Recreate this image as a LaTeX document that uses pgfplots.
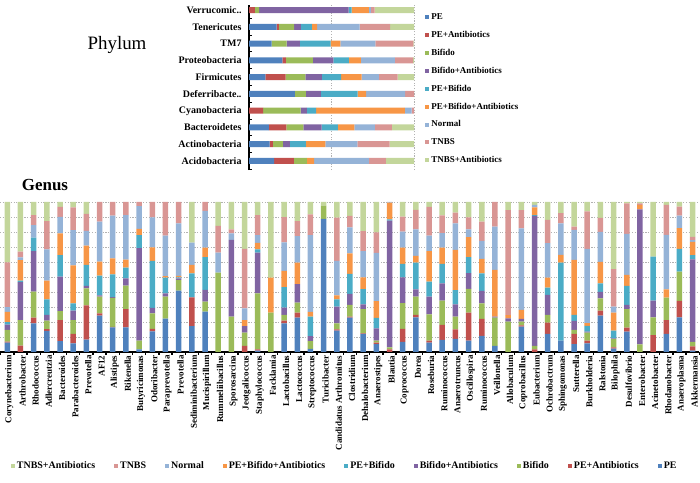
\documentclass[border=0pt]{standalone}
\usepackage{fontspec}
\setmainfont{Liberation Serif}
\usepackage{pgfplots}
\usepackage{pgfplotstable}
\pgfplotsset{compat=1.18}

\definecolor{cPE}{HTML}{4F81BD}
\definecolor{cPEA}{HTML}{C0504D}
\definecolor{cBif}{HTML}{9BBB59}
\definecolor{cBifA}{HTML}{8064A2}
\definecolor{cPEBif}{HTML}{4BACC6}
\definecolor{cPEBifA}{HTML}{F79646}
\definecolor{cNor}{HTML}{95B3D7}
\definecolor{cTNBS}{HTML}{D99694}
\definecolor{cTNBSA}{HTML}{C3D69B}

% phylum, 0 = Acidobacteria (bottom) ... 9 = Verrucomicrobia (top)
\pgfplotstableread{
y PE PEA Bif BifA PEBif PEBifA Nor TNBS TNBSA
0 15.3 11.9 7.9 0 0 4.4 33.1 10.3 17.1
1 12.5 2 6 4.2 9.7 11.9 19.4 19.6 14.7
2 12.1 10.5 10.3 11.1 9.9 9.9 12.5 10.3 13.4
3 0 8.5 22.8 3.8 5.6 53.8 4 1.5 0
4 27.8 0 6.7 9.1 22.2 5.2 23.6 5.4 0
5 9.9 12.3 11.9 10.1 11.7 12.3 10.5 11.3 10
6 20.2 2.2 16.3 12.5 9.3 7.3 20.6 11.1 0.5
7 13.7 0 9.1 8.1 18.5 6 21.2 23 0.4
8 16.7 1.4 9.3 4 6.7 3.2 25.8 18.5 14.4
9 0 3.6 2.6 54.2 1.8 10.5 1.2 2.2 23.9
}\phylum

% genus, one row per bar, left to right
\pgfplotstableread{
x PE PEA Bif BifA PEBif PEBifA Nor TNBS TNBSA
0 6.2 0.7 7.8 3.6 1.6 6.9 3.1 29.8 40.3
1 0 4.2 17.1 25.3 0.9 13.8 1.8 3.8 33.1
2 19.1 3.8 17.3 27.1 8.9 0 8.4 6.7 8.7
3 14 1.3 5.6 3.8 10.4 12.4 20.9 18.9 12.7
4 7.3 14 6 22.9 14.4 14.4 11.1 6.7 3.2
5 5.8 6.2 9.3 6.2 4.9 25.3 23.6 15.1 3.6
6 8.2 22.9 11.3 1.6 14 12.9 9.8 11.3 8
7 24.2 1.6 11.1 0.9 13.1 9.3 26.7 13.1 0
8 16.4 0.4 19.3 0.5 15.1 10.7 28.5 9.1 0
9 16.4 12.2 15.6 4.9 7.1 5.3 29.8 8.7 0
10 1.8 0 5.8 61.6 8.7 4.2 15.2 2.7 0
11 13.8 1.6 10.4 3.6 31.3 9.1 20 10.2 0
12 22.2 0 14.7 2.2 10.4 1.1 26.9 22.5 0
13 40.9 0 7.1 1.1 0.7 0.9 35.1 14.2 0
14 17.3 19.1 0 0 16 5.6 14.9 0 27.1
15 26.9 0 6.7 7.8 21.8 6.4 24.4 6 0
16 0 0 52.9 0 0 0 13.3 17.8 16
17 0 0 23.6 51.1 0 0 4.4 2.7 18.2
18 0 4 8.9 4.4 0 4 7.8 39.6 31.3
19 0.9 0.9 37.3 27.1 2.2 4.4 5.1 13.3 8.8
20 0 0 26.2 0 0 23.3 0 0 50.5
21 19.1 1.8 3.8 4.9 13.6 10.9 18.9 16.9 10.1
22 22.9 3.3 6.7 12.4 0 14.2 17.8 10 12.7
23 2 0 5.3 3.3 12.9 3.3 51.1 13.8 8.3
24 88.7 0 8.9 0 0 0 0 0 2.4
25 14.2 0.9 4 11.1 4.9 2.7 22.9 28.9 10.4
26 22.9 0.7 7.8 7.3 13.3 13.8 17.3 7.6 9.3
27 12 0.4 16.2 3.1 10.2 7.8 17.6 13.3 19.4
28 5.3 0.9 1.3 8.2 7.1 11.1 32.2 13.6 20.3
29 0 1.8 1.3 84.4 0.9 11.1 0.5 0 0
30 6.7 8.7 17.1 17.3 8.9 10.9 10.7 10 9.7
31 23.1 1.6 12.2 4.9 17.8 4.4 17.8 12.9 5.3
32 6.2 1.3 17.6 11.8 10 20.4 10.2 19.3 3.2
33 8 10 16.2 11.6 12.9 10.9 9.6 11.8 9
34 8.7 6.4 8.4 8.2 9.6 26.7 17.8 7.1 7.1
35 7.6 18.7 15.8 10.4 10.7 13.3 5.3 8 10.2
36 10.7 11.3 10.4 8.4 11.6 9.6 12 12.9 13.1
37 4 0 18.9 0.7 0 31.1 28.9 16.4 0
38 0 0 20.2 2.2 0 2.2 0 70 5.4
39 16.9 0.9 2.4 1.8 0 6 54.4 12.2 5.4
40 0 1.8 2.2 86.8 0.5 5.1 1.6 0 2
41 12 7.6 5.1 13.3 4.9 6.7 22.9 15.6 11.9
42 7.6 0 0 0 52 5.1 21.1 6.7 7.5
43 5.3 6.7 2.7 6 4 36.7 20 2.2 16.4
44 5.8 1.8 5.3 0.7 3.8 1.8 49.6 24.9 6.3
45 24.2 3.3 8.2 4.4 5.6 14.4 20 9.3 10.6
46 2.2 0.9 5.6 0.4 5.1 12 4 25.1 44.7
47 13.6 2.7 12.2 2.9 12.7 7.3 27.3 20.4 0.9
48 0 0 5.1 90 0 2.9 0 1.1 0.9
49 0 11.3 11.8 11.1 29.3 0 0 0 36.5
50 12 9.3 14.9 0 0 5.6 36.2 20 2
51 23.1 10.9 19.6 0 15.1 13.8 8.4 6 3.1
52 0.9 2.9 2.9 55.1 2.7 8.9 1.1 2.2 23.3
}\genus

\begin{document}
\begin{tikzpicture}
\path[use as bounding box] (0,0) rectangle (700bp,483bp);

\node[font=\fontsize{19}{20}\selectfont] at (117bp,438bp) {Phylum};
\node[font=\bfseries\fontsize{17}{18}\selectfont] at (45bp,298bp) {Genus};

% ---- phylum ----
\begin{axis}[
  at={(249bp,312.8bp)}, anchor=south west,
  width=165bp, height=165.2bp, scale only axis,
  xbar stacked, bar width=6bp,
  xmin=0, xmax=100, ymin=-0.55, ymax=9.3,
  axis x line*=bottom, axis y line*=left,
  x axis line style={draw=none},
  y axis line style={-, black, line width=1.4bp},
  xtick={50,100}, xticklabels={},
  xmajorgrids, major grid style={gray!60, dash pattern=on 1.2bp off 1.5bp, line width=0.5bp},
  ytick={0,...,9},
  yticklabels={Acidobacteria, Actinobacteria, Bacteroidetes, Cyanobacteria, Deferribacte.., Firmicutes, Proteobacteria, TM7, Tenericutes, Verrucomic..},
  yticklabel style={font=\bfseries\fontsize{10}{11}\selectfont, xshift=-4bp},
  major tick length=0pt,
  minor ytick={-0.5,0.5,...,8.5}, minor tick length=2.5bp,
  minor y tick style={black, line width=1bp},
  legend style={draw=none, fill=none, at={(1.05,0.975)}, anchor=north west,
    font=\bfseries\fontsize{9}{10}\selectfont, row sep=6.2bp},
  legend cell align=left,
  legend image code/.code={\draw[#1,draw=none] (0bp,-2bp) rectangle (4bp,2bp);},
]
\addplot[fill=cPE, draw=none] table[x=PE, y=y] {\phylum};
\addplot[fill=cPEA, draw=none] table[x=PEA, y=y] {\phylum};
\addplot[fill=cBif, draw=none] table[x=Bif, y=y] {\phylum};
\addplot[fill=cBifA, draw=none] table[x=BifA, y=y] {\phylum};
\addplot[fill=cPEBif, draw=none] table[x=PEBif, y=y] {\phylum};
\addplot[fill=cPEBifA, draw=none] table[x=PEBifA, y=y] {\phylum};
\addplot[fill=cNor, draw=none] table[x=Nor, y=y] {\phylum};
\addplot[fill=cTNBS, draw=none] table[x=TNBS, y=y] {\phylum};
\addplot[fill=cTNBSA, draw=none] table[x=TNBSA, y=y] {\phylum};
\legend{PE, PE+Antibiotics, Bifido, Bifido+Antibiotics, PE+Bifido, PE+Bifido+Antibiotics, Normal, TNBS, TNBS+Antibiotics}
\end{axis}

% ---- genus ----
\begin{axis}[
  at={(0.05bp,131bp)}, anchor=south west,
  width=699.2bp, height=150bp, scale only axis,
  ybar stacked, bar width=5.5bp,
  xmin=-0.55, xmax=52.5, ymin=0, ymax=100,
  axis x line*=bottom, axis y line*=left,
  y axis line style={draw=none},
  x axis line style={-, black, line width=1.6bp},
  ytick={10,20,...,100}, yticklabels={},
  ymajorgrids, major grid style={gray!60, dash pattern=on 1.2bp off 1.5bp, line width=0.5bp},
  xtick={0,...,52},
  xticklabels={Corynebacterium, Arthrobacter, Rhodococcus, Adlercreutzia, Bacteroides, Parabacteroides, Prevotella, AF12, Alistipes, Rikenella, Butyricimonas, Odoribacter, Paraprevotella, Prevotella, Sediminibacterium, Mucispirillum, Rummeliibacillus, Sporosarcina, Jeotgalicoccus, Staphylococcus, Facklamia, Lactobacillus, Lactococcus, Streptococcus, Turicibacter, Candidatus Arthromitus, Clostridium, Dehalobacterium, Anaerostipes, Blautia, Coprococcus, Dorea, Roseburia, Ruminococcus, Anaerotruncus, Oscillospira, Ruminococcus, Veillonella, Allobaculum, Coprobacillus, Eubacterium, Ochrobactrum, Sphingomonas, Sutterella, Burkholderia, Ralstonia, Bilophila, Desulfovibrio, Enterobacter, Acinetobacter, Rhodanobacter, Anaeroplasma, Akkermansia},
  xticklabel style={font=\bfseries\fontsize{9}{10}\selectfont, rotate=90, anchor=east, yshift=-2bp},
  major tick length=0pt,
  minor xtick={-0.5,0.5,...,52.5}, minor tick length=2.5bp, tick align=outside,
  minor x tick style={black, line width=1.3bp},
  legend style={draw=none, fill=none, at={(0.493,-0.76)}, anchor=center,
    font=\bfseries\fontsize{10}{11}\selectfont,
    /tikz/every even column/.append style={column sep=17bp}},
  legend columns=9,
  legend image code/.code={\draw[#1,draw=none] (0bp,-2bp) rectangle (4bp,2bp);},
]
\addplot[fill=cPE, draw=none, forget plot] table[x=x, y=PE] {\genus};
\addplot[fill=cPEA, draw=none, forget plot] table[x=x, y=PEA] {\genus};
\addplot[fill=cBif, draw=none, forget plot] table[x=x, y=Bif] {\genus};
\addplot[fill=cBifA, draw=none, forget plot] table[x=x, y=BifA] {\genus};
\addplot[fill=cPEBif, draw=none, forget plot] table[x=x, y=PEBif] {\genus};
\addplot[fill=cPEBifA, draw=none, forget plot] table[x=x, y=PEBifA] {\genus};
\addplot[fill=cNor, draw=none, forget plot] table[x=x, y=Nor] {\genus};
\addplot[fill=cTNBS, draw=none, forget plot] table[x=x, y=TNBS] {\genus};
\addplot[fill=cTNBSA, draw=none, forget plot] table[x=x, y=TNBSA] {\genus};
\addlegendimage{fill=cTNBSA}\addlegendentry{TNBS+Antibiotics}
\addlegendimage{fill=cTNBS}\addlegendentry{TNBS}
\addlegendimage{fill=cNor}\addlegendentry{Normal}
\addlegendimage{fill=cPEBifA}\addlegendentry{PE+Bifido+Antibiotics}
\addlegendimage{fill=cPEBif}\addlegendentry{PE+Bifido}
\addlegendimage{fill=cBifA}\addlegendentry{Bifido+Antibiotics}
\addlegendimage{fill=cBif}\addlegendentry{Bifido}
\addlegendimage{fill=cPEA}\addlegendentry{PE+Antibiotics}
\addlegendimage{fill=cPE}\addlegendentry{PE}
\end{axis}
\end{tikzpicture}
\end{document}
